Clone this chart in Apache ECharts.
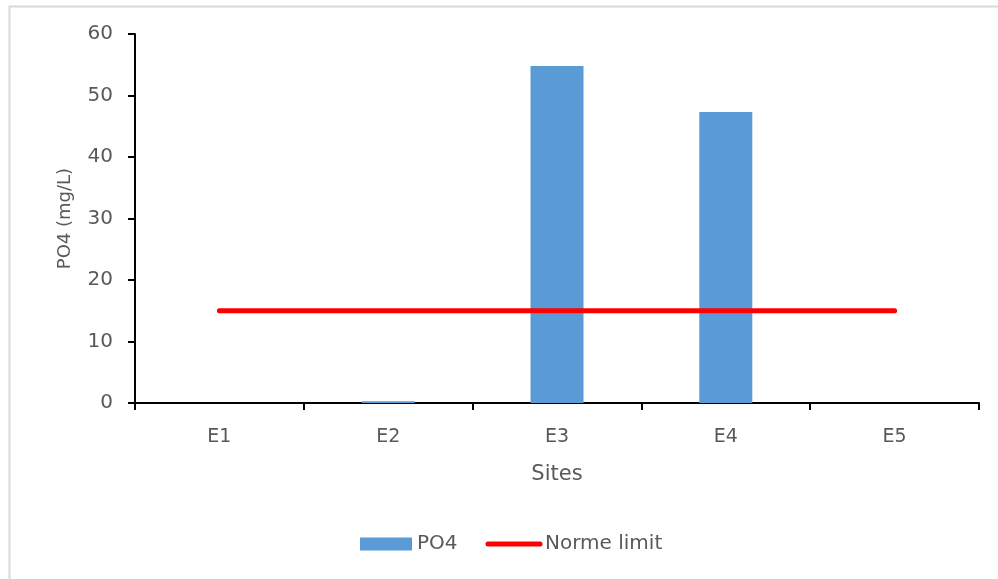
<!DOCTYPE html>
<html>
<head>
<meta charset="utf-8">
<script src="https://cdn.jsdelivr.net/npm/echarts@6/dist/echarts.min.js"></script>
<style>html,body{margin:0;padding:0;background:#fff}#c{width:998px;height:579px}</style>
</head>
<body>
<div id="c"></div>
<script>
var categories = ['E1', 'E2', 'E3', 'E4', 'E5'];
var po4Values = [0, 0.3, 54.8, 47.3, 0];
var normeLimit = [15, 15, 15, 15, 15];
var yTicks = [0, 10, 20, 30, 40, 50, 60];

var chart = echarts.init(document.getElementById('c'));
var font = 'DejaVu Sans, sans-serif';
chart.setOption({
  animation: false,
  backgroundColor: '#fff',
  graphic: [{
    type: 'rect', left: 7, top: 4,
    shape: { width: 1000, height: 600 },
    style: { fill: 'none', stroke: '#d9d9d9', lineWidth: 2 }
  }],
  grid: { left: 135, right: 19, top: 34, bottom: 176 },
  legend: {
    bottom: 20, left: 355,
    itemWidth: 52, itemHeight: 13, itemGap: 28,
    textStyle: { fontFamily: font, fontSize: 20, color: '#595959' },
    data: [
      { name: 'PO4', icon: 'rect' },
      { name: 'Norme limit', itemStyle: { opacity: 0 }, lineStyle: { color: '#FF0000', width: 5, cap: 'round' } }
    ]
  },
  xAxis: {
    type: 'category', data: categories,
    name: 'Sites', nameLocation: 'middle', nameGap: 61,
    nameTextStyle: { fontFamily: font, fontSize: 21, color: '#595959' },
    axisLine: { lineStyle: { color: '#000', width: 2 } },
    axisTick: { show: true, length: 7, lineStyle: { color: '#000', width: 2 } },
    axisLabel: { fontFamily: font, fontSize: 19, color: '#595959', margin: 25 }
  },
  yAxis: {
    type: 'value', min: 0, max: 60, interval: 10,
    name: 'PO4 (mg/L)', nameLocation: 'middle', nameGap: 61,
    nameTextStyle: { fontFamily: font, fontSize: 18, color: '#595959' },
    axisLine: { show: true, lineStyle: { color: '#000', width: 2 } },
    axisTick: { show: true, length: 7, lineStyle: { color: '#000', width: 2 } },
    splitLine: { show: false },
    axisLabel: {
      fontFamily: font, fontSize: 20, color: '#595959', margin: 22,
      formatter: function (v) { return yTicks.indexOf(v) >= 0 ? String(v) : ''; }
    }
  },
  series: [{
    name: 'PO4', type: 'bar', data: po4Values, barWidth: 53,
    itemStyle: { color: '#5B9BD5' }
  }, {
    name: 'Norme limit', type: 'line', data: normeLimit,
    symbol: 'none', z: 5,
    lineStyle: { color: '#FF0000', width: 5, cap: 'round' },
    itemStyle: { color: '#FF0000' }
  }]
});
</script>
</body>
</html>
